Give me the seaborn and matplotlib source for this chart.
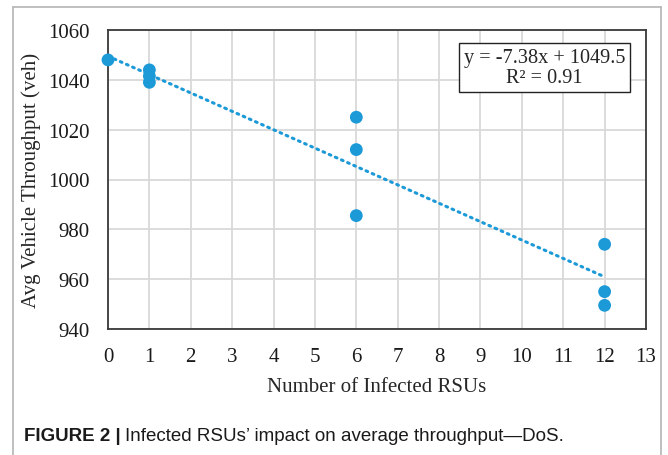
import numpy as np
import pandas as pd
import matplotlib.pyplot as plt
import seaborn as sns
from matplotlib.lines import Line2D

# =========================
# DADES
# =========================
infected_rsus = [0, 1, 1, 1, 6, 6, 6, 12, 12, 12]
throughput = [1048, 1044, 1041.5, 1039, 1025, 1012, 985.5, 974, 955, 949.5]

# recta de tendència (Excel)
slope = -7.38
intercept = 1049.5
r2 = 0.91

x_ticks = list(range(0, 14))
y_ticks = [940, 960, 980, 1000, 1020, 1040, 1060]

df = pd.DataFrame({"rsus": infected_rsus, "thr": throughput})

blue = "#1c9ad8"
fs = 15

sns.set_style("white")
plt.rcParams["font.family"] = ["Liberation Serif", "DejaVu Serif"]

fig = plt.figure(figsize=(6.68, 4.56), dpi=100)
ax = fig.add_axes([108 / 668, 1 - 330 / 456, 538 / 668, 299 / 456])

# grid
ax.set_axisbelow(True)
ax.grid(True, color="#d9d9d9", linewidth=1.3)

# trendline
x_fit = np.array([min(infected_rsus), max(infected_rsus)])
y_fit = slope * x_fit + intercept
ax.plot(x_fit, y_fit, color=blue, linewidth=2.2,
        linestyle=(0, (0.6, 1.6)), dash_capstyle="round", zorder=2)

sns.scatterplot(data=df, x="rsus", y="thr", ax=ax, color=blue,
                s=85, edgecolor="none", zorder=3, legend=False, clip_on=False)

ax.set_xlim(0, 13)
ax.set_ylim(940, 1060)
ax.set_xticks(x_ticks)
ax.set_yticks(y_ticks)
ax.tick_params(length=0, labelsize=fs, colors="#1a1a1a")
ax.tick_params(axis="x", pad=13)
ax.tick_params(axis="y", pad=13)

for s in ax.spines.values():
    s.set_visible(True)
    s.set_color("#3a3a3a")
    s.set_linewidth(1.3)

ax.set_xlabel("Number of Infected RSUs", fontsize=fs, labelpad=8)
ax.set_ylabel("Avg Vehicle Throughput (veh)", fontsize=fs, labelpad=5)

# caixa amb l'equació
ax.text(544.5 / 668, 1 - 68.5 / 456,
        f"y = {slope}x + {intercept}\nR\u00b2 = {r2}",
        transform=fig.transFigure, ha="center", va="center",
        multialignment="center", fontsize=14.6, linespacing=1.12,
        bbox=dict(boxstyle="square,pad=0.22", facecolor="white",
                  edgecolor="#222222", linewidth=1.0), zorder=5)

# marc exterior
frame_col = "#b4b4b4"
fig.add_artist(Line2D([13 / 668, 13 / 668], [0, 1 - 8 / 456],
                      transform=fig.transFigure, color=frame_col, linewidth=1.2))
fig.add_artist(Line2D([13 / 668, 661 / 668], [1 - 8 / 456, 1 - 8 / 456],
                      transform=fig.transFigure, color=frame_col, linewidth=1.2))
fig.add_artist(Line2D([661 / 668, 661 / 668], [0, 1 - 8 / 456],
                      transform=fig.transFigure, color=frame_col, linewidth=1.2))

# peu de figura
cap_y = 1 - 437 / 456
cap_fs = 13.5
t1 = fig.text(24 / 668, cap_y, "FIGURE 2 |", fontsize=cap_fs, fontweight="bold",
              family=["Liberation Sans", "DejaVu Sans"], va="center", color="#1a1a1a")
renderer = fig.canvas.get_renderer()
bb = t1.get_window_extent(renderer=renderer)
fig.text((bb.x1 + 4) / 668, cap_y, "Infected RSUs\u2019 impact on average throughput\u2014DoS.",
         fontsize=cap_fs, family=["Liberation Sans", "DejaVu Sans"], va="center",
         color="#1a1a1a")

fig.savefig("out.png", dpi=100)
